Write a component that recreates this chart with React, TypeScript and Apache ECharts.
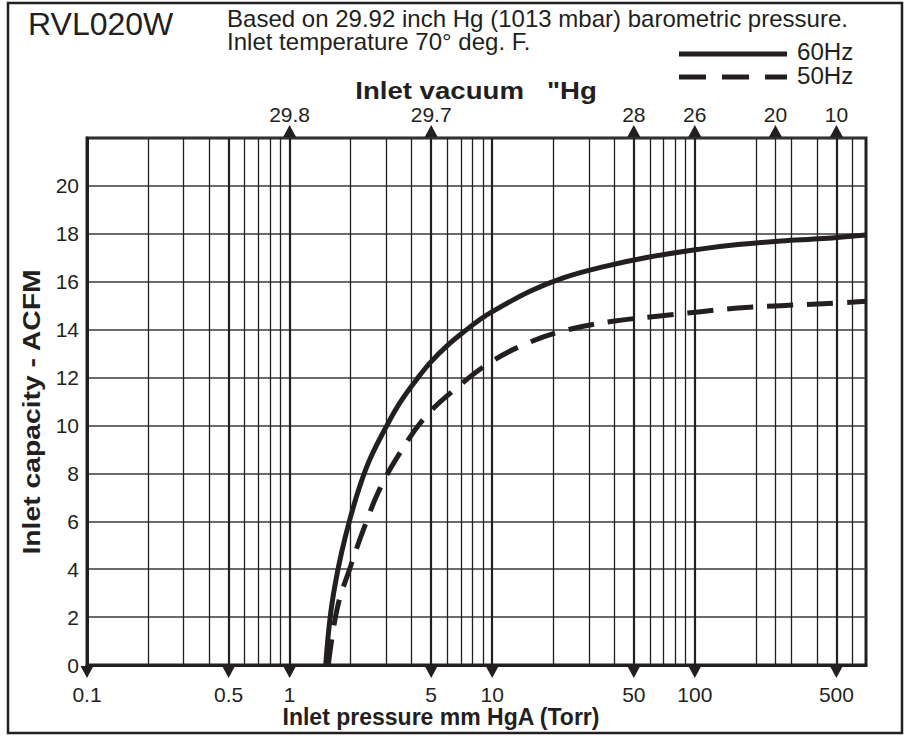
import React, { useEffect, useRef } from 'react';
import * as echarts from 'echarts';

// ---- data ----
const xMin = 0.1;
const xMax = 700;
const yMin = 0;
const yMax = 22;
const yInterval = 2;

const bottomTickValues = [0.1, 0.5, 1, 5, 10, 50, 100, 500];
const bottomTickLabels = ['0.1', '0.5', '1', '5', '10', '50', '100', '500'];
const topTickValues = [1, 5, 50, 100, 250, 500];
const topTickLabels = ['29.8', '29.7', '28', '26', '20', '10'];
const minorGridValues = [
  0.2, 0.3, 0.4, 0.6, 0.7, 0.8, 0.9,
  2, 3, 4, 6, 7, 8, 9,
  20, 30, 40, 60, 70, 80, 90,
  200, 250, 300, 400, 600,
];
const majorGridValues = [0.5, 1, 5, 10, 50, 100, 500];

// 60Hz (solid) - inlet pressure (mm HgA) vs inlet capacity (ACFM)
const pressure60 = [1.507, 1.583, 1.675, 1.807, 1.987, 2.226, 2.494, 3.014, 3.507, 4.239, 4.932, 5.961, 7.482, 8.705, 9.865, 15.37, 22.61, 35.63, 58.75, 106.1, 163.4, 266.4, 429.3, 700];
const capacity60 = [0, 1.94, 3.33, 4.71, 6.1, 7.49, 8.6, 9.98, 10.95, 11.92, 12.61, 13.31, 14.0, 14.42, 14.72, 15.6, 16.17, 16.63, 17.02, 17.36, 17.55, 17.7, 17.8, 17.95];
// 50Hz (dashed)
const pressure50 = [1.553, 1.72, 1.987, 2.329, 2.794, 3.533, 4.695, 6.677, 9.83, 15.08, 23.76, 39.5, 63.6, 107, 163, 266, 430, 700];
const capacity50 = [0, 2.38, 4.05, 5.71, 7.37, 8.9, 10.37, 11.57, 12.64, 13.45, 14.0, 14.35, 14.55, 14.75, 14.9, 15.0, 15.08, 15.18];

const INK = '#231f20';
const FONT = '"Liberation Sans", Arial, Helvetica, sans-serif';

const txt = (text: string, x: number, y: number, size: number, opts: any = {}) => ({
  type: 'text',
  x,
  y,
  rotation: opts.rotation || 0,
  scaleX: opts.scaleX || 1,
  silent: true,
  style: {
    text,
    fontSize: size,
    fontFamily: FONT,
    fontWeight: opts.bold ? 'bold' : 'normal',
    fill: INK,
    align: opts.align || 'left',
    textAlign: opts.align || 'left',
    verticalAlign: 'middle',
    textVerticalAlign: 'middle',
  },
});

export default function App() {
  const ref = useRef<HTMLDivElement>(null);

  useEffect(() => {
    if (!ref.current) return;
    const chart = echarts.init(ref.current, undefined, { renderer: 'svg' });

    const gridLine = (v: number, w: number) => ({
      xAxis: v,
      lineStyle: { color: INK, width: w, type: 'solid' as const },
    });

    const option: any = {
      animation: false,
      backgroundColor: '#ffffff',
      textStyle: { fontFamily: FONT },
      grid: {
        left: 87,
        right: 39,
        top: 138,
        bottom: 71,
        show: true,
        borderColor: INK,
        borderWidth: 3,
        backgroundColor: 'transparent',
      },
      xAxis: {
        type: 'log',
        logBase: 10,
        min: xMin,
        max: xMax,
        axisLine: { show: true, lineStyle: { color: INK, width: 3 } },
        axisTick: { show: false },
        axisLabel: { show: false },
        splitLine: { show: false },
        minorSplitLine: { show: false },
      },
      yAxis: {
        type: 'value',
        min: yMin,
        max: yMax,
        interval: yInterval,
        axisLine: { show: true, lineStyle: { color: INK, width: 3 } },
        axisTick: { show: false },
        axisLabel: {
          margin: 8,
          fontSize: 21,
          color: INK,
          fontFamily: FONT,
          formatter: (v: number) => (v > 20 ? '' : String(v)),
        },
        splitLine: { show: true, lineStyle: { color: '#3a3a3a', width: 1.5 } },
      },
      graphic: [
        {
          type: 'rect',
          shape: { x: 8, y: 3, width: 894, height: 730 },
          style: { fill: 'none', stroke: INK, lineWidth: 2.5 },
          silent: true,
        },
        txt('RVL020W', 28, 24, 32),
        txt('Based on 29.92 inch Hg (1013 mbar) barometric pressure.', 227, 19, 23, { scaleX: 1.045 }),
        txt('Inlet temperature 70° deg. F.', 227, 42, 23, { scaleX: 1.045 }),
        {
          type: 'line',
          silent: true,
          shape: { x1: 679, y1: 54, x2: 787, y2: 54 },
          style: { stroke: INK, lineWidth: 5 },
        },
        {
          type: 'line',
          silent: true,
          shape: { x1: 679, y1: 77, x2: 787, y2: 77 },
          style: { stroke: INK, lineWidth: 5, lineDash: [27, 16] },
        },
        txt('60Hz', 797, 52, 23, { scaleX: 1.05 }),
        txt('50Hz', 797, 76, 23, { scaleX: 1.05 }),
        txt('Inlet vacuum   "Hg', 476, 91, 24, { bold: true, align: 'center', scaleX: 1.15 }),
        txt('Inlet pressure mm HgA (Torr)', 441, 717, 23, { bold: true, align: 'center' }),
        txt('Inlet capacity - ACFM', 32, 412, 24, { bold: true, align: 'center', rotation: Math.PI / 2, scaleX: 1.18 }),
      ],
      series: [
        {
          name: 'grid',
          type: 'line',
          data: [],
          silent: true,
          z: 1,
          markLine: {
            silent: true,
            symbol: ['none', 'none'],
            label: { show: false },
            animation: false,
            data: [
              ...minorGridValues.map((v) => gridLine(v, 1.3)),
              ...majorGridValues.map((v) => gridLine(v, 2.2)),
            ],
          },
        },
        {
          name: '60Hz',
          type: 'line',
          data: pressure60.map((p, i) => [p, capacity60[i]]),
          smooth: 0.4,
          showSymbol: false,
          symbol: 'none',
          z: 5,
          lineStyle: { color: INK, width: 5, cap: 'butt', join: 'round' },
        },
        {
          name: '50Hz',
          type: 'line',
          data: pressure50.map((p, i) => [p, capacity50[i]]),
          smooth: 0.4,
          showSymbol: false,
          symbol: 'none',
          z: 5,
          lineStyle: { color: INK, width: 5, type: [26, 14], cap: 'butt', join: 'round' },
        },
        {
          name: 'bottomTicks',
          type: 'scatter',
          data: bottomTickValues.map((v) => [v, yMin]),
          symbol: 'path://M0 0L2 0L1 2Z',
          symbolSize: [13, 12],
          symbolOffset: [0, 7],
          clip: false,
          silent: true,
          z: 6,
          itemStyle: { color: INK, opacity: 1 },
          label: {
            show: true,
            position: 'bottom',
            distance: 6,
            fontSize: 21,
            fontFamily: FONT,
            color: INK,
            formatter: (p: any) => bottomTickLabels[p.dataIndex],
          },
        },
        {
          name: 'topTicks',
          type: 'scatter',
          data: topTickValues.map((v) => [v, yMax]),
          symbol: 'path://M1 0L2 2L0 2Z',
          symbolSize: [13, 12],
          symbolOffset: [0, -7],
          clip: false,
          silent: true,
          z: 6,
          itemStyle: { color: INK, opacity: 1 },
          label: {
            show: true,
            position: 'top',
            distance: 0,
            fontSize: 21,
            fontFamily: FONT,
            color: INK,
            formatter: (p: any) => topTickLabels[p.dataIndex],
          },
        },
      ],
    };

    chart.setOption(option);
    return () => {
      chart.dispose();
    };
  }, []);

  return (
    <div
      ref={ref}
      style={{ position: 'absolute', left: 0, top: 0, width: 905, height: 736, background: '#fff' }}
    />
  );
}
